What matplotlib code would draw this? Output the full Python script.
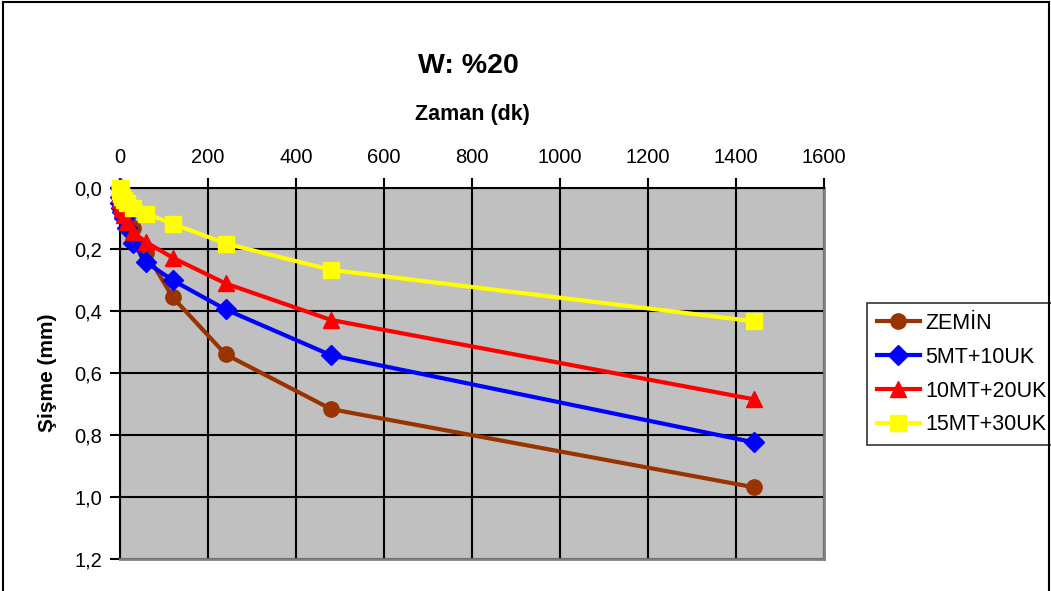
import matplotlib
matplotlib.use("Agg")
import matplotlib.pyplot as plt
from matplotlib.patches import Rectangle
from matplotlib.ticker import FuncFormatter, MultipleLocator

plt.rcParams['font.family'] = ['Liberation Sans', 'DejaVu Sans']

# Elapsed time (minutes)
time_min = [0, 0.25, 1, 2, 4, 8, 15, 30, 60, 120, 240, 480, 1440]

# Swelling (mm) for each mixture
zemin = [0, 0.02, 0.035, 0.05, 0.065, 0.08, 0.10, 0.13, 0.213, 0.355, 0.539, 0.716, 0.968]
mt5_uk10 = [0, 0.03, 0.05, 0.065, 0.08, 0.10, 0.13, 0.18, 0.242, 0.300, 0.394, 0.542, 0.823]
mt10_uk20 = [0, 0.02, 0.04, 0.055, 0.07, 0.09, 0.113, 0.145, 0.177, 0.227, 0.310, 0.428, 0.684]
mt15_uk30 = [0, 0.005, 0.01, 0.02, 0.03, 0.04, 0.05, 0.066, 0.085, 0.117, 0.181, 0.266, 0.432]

series = [
    ("ZEMİN", zemin, "#993300", "o", 11),
    ("5MT+10UK", mt5_uk10, "#0000FF", "D", 10),
    ("10MT+20UK", mt10_uk20, "#FF0000", "^", 12),
    ("15MT+30UK", mt15_uk30, "#FFFF00", "s", 11),
]

W, H = 1051, 591
fig = plt.figure(figsize=(W / 100, H / 100), dpi=100)
ax = fig.add_axes([120 / W, 1 - 559 / H, 704 / W, 371.5 / H])

ax.set_facecolor("#C0C0C0")
for label, vals, color, marker, ms in series:
    ax.plot(time_min, vals, color=color, lw=3, marker=marker, ms=ms,
            markeredgecolor=color, label=label, clip_on=False, zorder=3)

ax.set_xlim(0, 1600)
ax.set_ylim(1.2, 0)
ax.xaxis.set_major_locator(MultipleLocator(200))
ax.yaxis.set_major_locator(MultipleLocator(0.2))
ax.yaxis.set_major_formatter(FuncFormatter(lambda v, p: f"{v:.1f}".replace(".", ",")))
ax.xaxis.tick_top()
ax.xaxis.set_label_position("top")
ax.tick_params(axis="both", direction="out", length=7, width=1.5,
               labelsize=14.5, colors="black", pad=6)
ax.tick_params(axis="x", pad=8)
ax.grid(True, color="black", lw=1.5)
ax.set_axisbelow(True)
ax.spines["top"].set_color("black")
ax.spines["left"].set_color("black")
ax.spines["top"].set_linewidth(1.5)
ax.spines["left"].set_linewidth(1.5)
ax.spines["right"].set_color("#808080")
ax.spines["bottom"].set_color("#808080")
ax.spines["right"].set_linewidth(2)
ax.spines["bottom"].set_linewidth(2)

ax.set_xlabel("Zaman (dk)", fontsize=15.5, fontweight="bold", labelpad=20)
ax.set_ylabel("Şişme (mm)", fontsize=15, fontweight="bold", labelpad=12)
fig.text(468 / W, 1 - 66 / H, "W: %20", fontsize=20.5, fontweight="bold",
         ha="center", va="center")

leg = ax.legend(loc="upper left", bbox_to_anchor=(867 / W, 1 - 303 / H),
                bbox_transform=fig.transFigure, fontsize=15.5, frameon=True,
                fancybox=False, edgecolor="black", handlelength=2.0,
                handletextpad=0.25, labelspacing=0.6, borderpad=0.45,
                borderaxespad=0)
leg.get_frame().set_linewidth(1.2)

fig.patches.append(Rectangle((3 / W, -0.05), (1046) / W, 1.05 - 2 / H,
                             transform=fig.transFigure, fill=False,
                             edgecolor="black", lw=1.5))

fig.savefig("out.png", dpi=100)
